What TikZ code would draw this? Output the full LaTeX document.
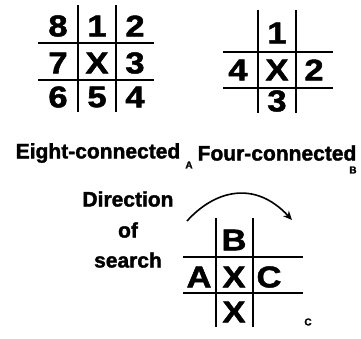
\documentclass[tikz,border=0pt]{standalone}
\usepackage{fontspec}
\setmainfont{Liberation Sans}
\newfontfamily\heavy[FakeBold=1.6]{Liberation Sans Bold}
\usetikzlibrary{arrows.meta}

\tikzset{
  gridline/.style={line width=2.6pt},
  cell/.style={font=\heavy\fontsize{30}{30}\selectfont,inner sep=0pt,xscale=1.15},
  caption/.style={font=\heavy\fontsize{21}{22}\selectfont,inner sep=0pt},
  tag/.style={font=\heavy\fontsize{10}{10}\selectfont,inner sep=0pt}
}

\begin{document}
\begin{tikzpicture}[x=1pt,y=-1pt]
\useasboundingbox (0,0) rectangle (361,338);
% eight-connected
\draw[gridline] (78,5)--(78,112);
\draw[gridline] (116,5)--(116,112);
\draw[gridline] (38,43)--(154,43);
\draw[gridline] (38,80)--(154,80);
\node[cell] (a8) at (58,26) {8};
\node[cell] (a1) at (97,26) {1};
\node[cell] (a2) at (135,26) {2};
\node[cell] (a7) at (58,63) {7};
\node[cell] (ax) at (97,63) {X};
\node[cell] (a3) at (135,63) {3};
\node[cell] (a6) at (58,97) {6};
\node[cell] (a5) at (97,97) {5};
\node[cell] (a4) at (135,97) {4};
% four-connected
\draw[gridline] (258,10)--(258,113);
\draw[gridline] (296,10)--(296,113);
\draw[gridline] (223,52)--(333,52);
\draw[gridline] (223,88)--(333,88);
\node[cell] (b1) at (277,33) {1};
\node[cell] (b4) at (238,70) {4};
\node[cell] (bx) at (277,70) {X};
\node[cell] (b2) at (314,70) {2};
\node[cell] (b3) at (277,101) {3};
\node[caption] (eight) at (98,153) {Eight-connected};
\node[tag] (la) at (189,165) {A};
\node[caption] (four) at (277,153) {Four-connected};
\node[tag] (lb) at (353,170) {B};
% search
\node[caption] (dir) at (128,199) {Direction};
\node[caption] (of) at (128,230) {of};
\node[caption] (srch) at (128,260) {search};
\draw[gridline] (216,218)--(216,327);
\draw[gridline] (253,218)--(253,327);
\draw[gridline] (183,257)--(303,257);
\draw[gridline] (183,293)--(303,293);
\node[cell] (cb) at (234,240) {B};
\node[cell] (ca) at (199,277) {A};
\node[cell] (cx) at (234,277) {X};
\node[cell] (cc) at (269,277) {C};
\node[cell] (cx2) at (234,312) {X};
\node[tag] (lc) at (308,322) {C};
\coordinate (s) at (187,221);
\coordinate (e) at (292,220);
\draw[line width=1.6pt,-{Stealth[length=9pt,width=8pt]}] (s) .. controls (215,190) and (255,180) .. (e);
\end{tikzpicture}
\end{document}
